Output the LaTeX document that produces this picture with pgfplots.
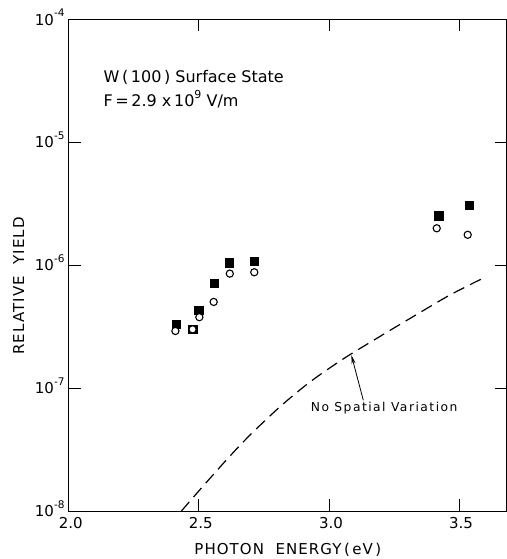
\documentclass[border=0pt]{standalone}
\usepackage{pgfplots}
\pgfplotsset{compat=1.18}
\usepackage{fontspec}
\setmainfont{DejaVu Sans}
\usetikzlibrary{arrows.meta}
\newcommand{\tl}[1]{10\raisebox{0.55em}{\fontsize{10.5}{10.5}\selectfont #1}}

\pgfplotstableread{
x y
2.412 3.33e-7
2.476 3.03e-7
2.500 4.33e-7
2.558 7.14e-7
2.616 1.05e-6
2.713 1.08e-6
3.421 2.53e-6
3.539 3.08e-6
}\squares

\pgfplotstableread{
x y
2.410 2.92e-7
2.476 3.01e-7
2.502 3.78e-7
2.557 5.03e-7
2.619 8.55e-7
2.713 8.77e-7
3.414 2.00e-6
3.533 1.77e-6
}\circles

\pgfplotstableread{
x y
2.433 1.000e-8
2.517 1.600e-8
2.613 2.704e-8
2.697 4.159e-8
2.812 7.063e-8
2.927 1.122e-7
3.055 1.730e-7
3.196 2.636e-7
3.324 3.828e-7
3.465 5.730e-7
3.599 7.980e-7
}\theory

\begin{document}
\begin{tikzpicture}
\begin{axis}[
  scale only axis, width=438.3pt, height=491.5pt,
  xmin=2, xmax=3.684, ymin=1e-8, ymax=1e-4, ymode=log,
  xtick={2,2.5,3,3.5}, xticklabels={2.0,2.5,3.0,3.5},
  ytick={1e-8,1e-7,1e-6,1e-5,1e-4},
  yticklabels={\tl{-8},\tl{-7},\tl{-6},\tl{-5},\tl{-4}},
  yminorticks=false,
  tick align=inside, major tick length=12pt,
  axis line style={line width=1.0pt},
  every tick/.style={black, line width=0.9pt},
  tick label style={font=\fontsize{15}{15}\selectfont},
  yticklabel style={anchor=base east, yshift=-5.5pt, xshift=-4pt, inner sep=0pt},
  xticklabel style={anchor=base, yshift=-17pt, xshift=2pt, inner sep=0pt},
  clip=false,
]
\addplot[only marks, mark=square*, mark size=4.2pt, black] table {\squares};
\addplot[only marks, mark=*, mark size=3.6pt, draw=black, fill=white, line width=1.1pt] table {\circles};
\addplot[smooth, black, line width=1.2pt, dash pattern=on 12pt off 6.5pt] table {\theory};

\draw[-{Stealth[length=9pt,width=4pt]}, line width=0.8pt] (axis cs:3.132,7.96e-8) -- (axis cs:3.086,1.86e-7);
\node[font=\fontsize{12.3}{12.3}\selectfont\addfontfeatures{LetterSpace=12}] at (axis cs:3.212,6.9e-8) {No Spatial Variation};

\node[anchor=west, font=\fontsize{16}{16}\selectfont] at (axis description cs:0.0714,0.883) {W\,(\,100\,) Surface State};
\node[anchor=west, font=\fontsize{16}{16}\selectfont] at (axis description cs:0.0714,0.838) {F\,=\,2.9 x\,10\raisebox{0.55em}{\fontsize{11}{11}\selectfont 9} V/m};

\node[rotate=90, font=\fontsize{15}{15}\selectfont\addfontfeatures{LetterSpace=7}] at (axis description cs:-0.114,0.458) {RELATIVE\ \ YIELD};
\node[anchor=base, font=\fontsize{15}{15}\selectfont\addfontfeatures{LetterSpace=7}] at ([yshift=-43pt]axis description cs:0.5,0) {PHOTON\ \ ENERGY\,(\,eV\,)};

\coordinate (bbSW) at (rel axis cs:0,0);
\coordinate (bbNE) at (rel axis cs:1,1);
\end{axis}
\pgfresetboundingbox
\useasboundingbox ([xshift=-68.7pt,yshift=-48pt]bbSW) rectangle ([yshift=19.5pt]bbNE);
\end{tikzpicture}
\end{document}
